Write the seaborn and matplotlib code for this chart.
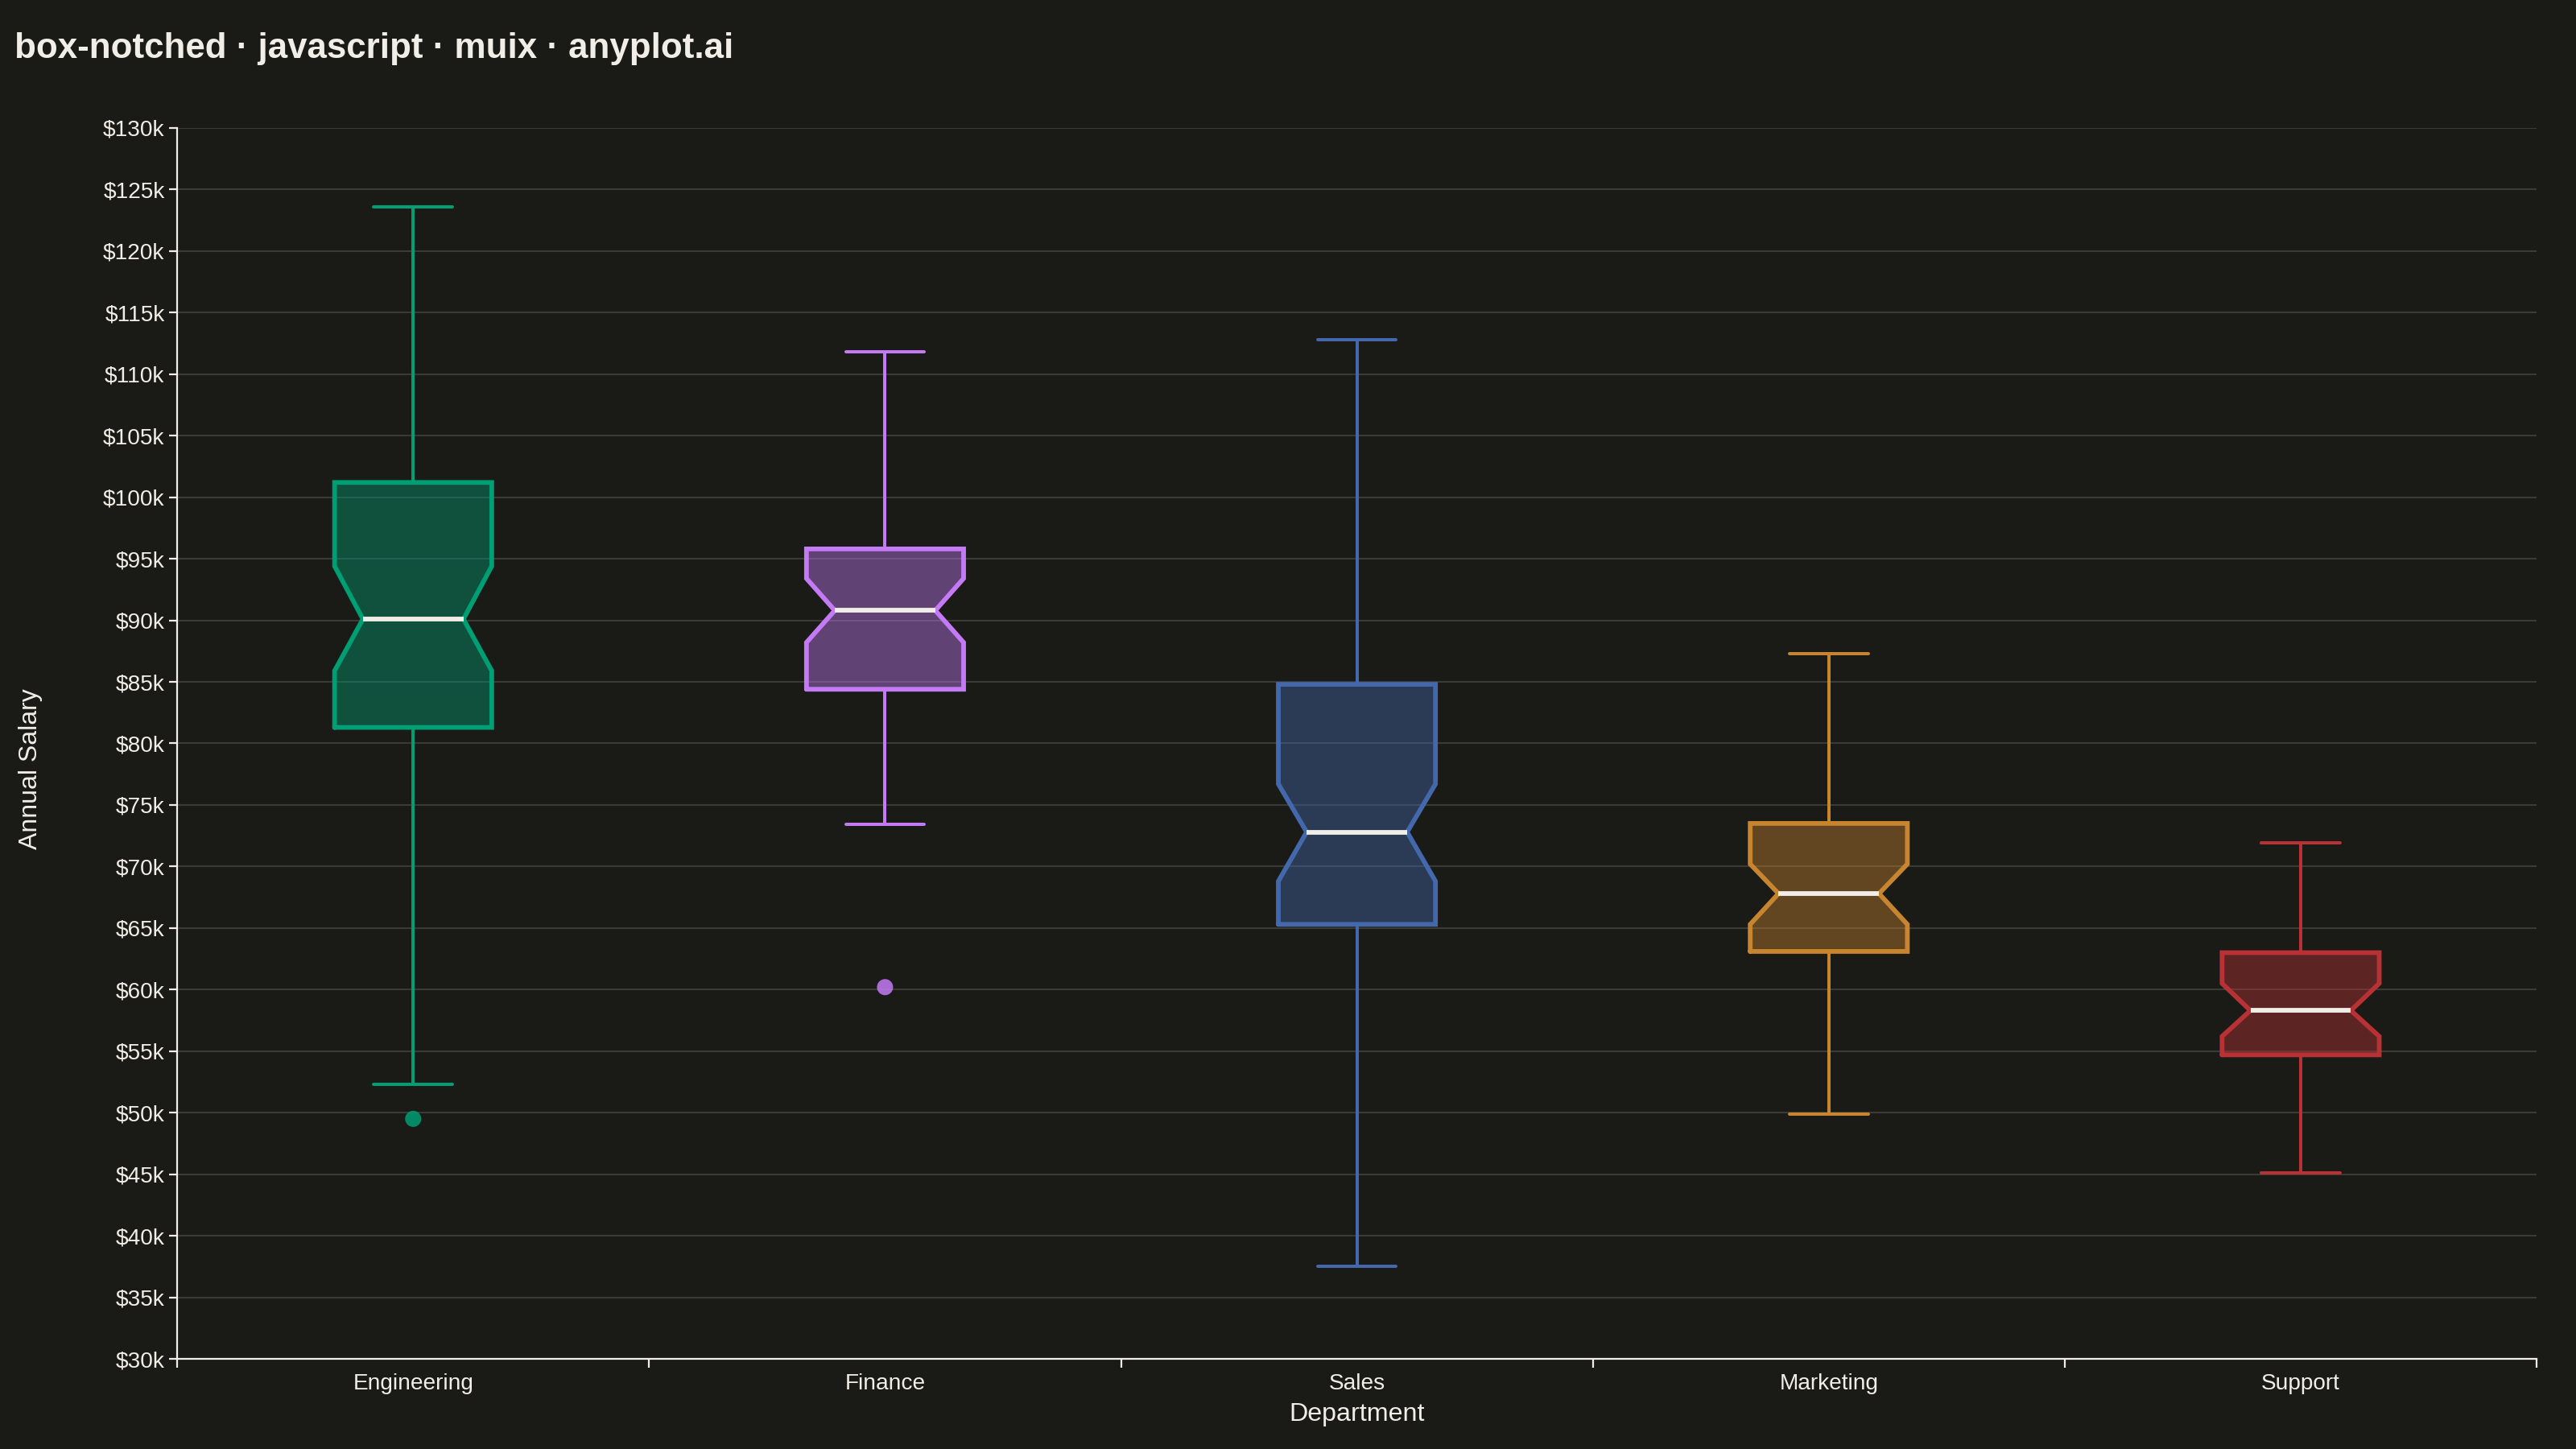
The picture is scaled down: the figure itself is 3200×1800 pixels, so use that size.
import matplotlib.pyplot as plt
import pandas as pd
import seaborn as sns
from matplotlib.ticker import FuncFormatter, MultipleLocator

# Box statistics (salary in $k)
departments = ["Engineering", "Finance", "Sales", "Marketing", "Support"]
whisker_low = [52.3, 73.4, 37.5, 49.9, 45.1]
q1 = [81.3, 84.4, 65.3, 63.1, 54.7]
notch_low = [85.9, 88.2, 68.8, 65.3, 56.2]
median = [90.1, 90.8, 72.8, 67.8, 58.3]
notch_high = [94.4, 93.4, 76.7, 70.2, 60.5]
q3 = [101.2, 95.8, 84.8, 73.5, 63.0]
whisker_high = [123.6, 111.8, 112.8, 87.3, 71.9]

outlier_dept = ["Engineering", "Finance"]
outlier_salary = [49.5, 60.2]

colors = ["#009E73", "#C47AF5", "#4468AC", "#C8852F", "#B83235"]

BG = "#1A1A17"
INK = "#F0EEE6"
GRID = "#3A3A36"

sns.set_theme(style="dark", rc={
    "figure.facecolor": BG,
    "axes.facecolor": BG,
    "axes.edgecolor": INK,
    "axes.labelcolor": INK,
    "text.color": INK,
    "xtick.color": INK,
    "ytick.color": INK,
})
plt.rcParams["font.family"] = ["Liberation Sans", "DejaVu Sans"]

fig, ax = plt.subplots(figsize=(16, 9), dpi=200)
fig.subplots_adjust(left=0.0688, right=0.9847, top=0.9117, bottom=0.0622)

box_w = 0.333
indent = 0.06
cap_w = box_w / 2

for i, dept in enumerate(departments):
    c = colors[i]
    l, r = i - box_w / 2, i + box_w / 2
    xs = [l, r, r, r - indent, r, r, l, l, l + indent, l, l]
    ys = [q1[i], q1[i], notch_low[i], median[i], notch_high[i], q3[i],
          q3[i], notch_high[i], median[i], notch_low[i], q1[i]]
    ax.fill(xs, ys, color=c, alpha=0.42, lw=0, zorder=2)
    ax.plot(xs, ys, color=c, lw=2.1, solid_joinstyle="miter", zorder=3)
    # whiskers and caps
    ax.plot([i, i], [q3[i], whisker_high[i]], color=c, lw=1.45, zorder=2)
    ax.plot([i, i], [q1[i], whisker_low[i]], color=c, lw=1.45, zorder=2)
    ax.plot([i - cap_w / 2, i + cap_w / 2], [whisker_high[i]] * 2, color=c, lw=1.45, zorder=2)
    ax.plot([i - cap_w / 2, i + cap_w / 2], [whisker_low[i]] * 2, color=c, lw=1.45, zorder=2)
    # median
    ax.plot([l + indent, r - indent], [median[i]] * 2, color=INK, lw=2.1,
            solid_capstyle="butt", zorder=4)

out = pd.DataFrame({"dept": outlier_dept, "salary": outlier_salary})
out["x"] = out["dept"].map({d: k for k, d in enumerate(departments)})
sns.scatterplot(data=out, x="x", y="salary", hue="dept",
                palette={d: colors[departments.index(d)] for d in outlier_dept},
                s=52, alpha=0.85, linewidth=0, legend=False, ax=ax, zorder=5)

ax.set_xlim(-0.5, len(departments) - 0.5)
ax.set_ylim(30, 130)
ax.yaxis.set_major_locator(MultipleLocator(5))
ax.yaxis.set_major_formatter(FuncFormatter(lambda v, p: f"${v:.0f}k"))
ax.set_xticks(range(len(departments)))
ax.set_xticklabels(departments)
ax.set_xticks([k - 0.5 for k in range(len(departments) + 1)], minor=True)

ax.grid(axis="y", color=GRID, lw=0.75)
ax.grid(axis="x", visible=False)
ax.set_axisbelow(True)
sns.despine(ax=ax)
for side in ["left", "bottom"]:
    ax.spines[side].set_color(INK)
    ax.spines[side].set_linewidth(0.8)

ax.tick_params(axis="y", which="major", length=3.6, width=0.8, pad=2, labelsize=10.1, left=True)
ax.tick_params(axis="x", which="major", length=0, pad=6.5, labelsize=10.1)
ax.tick_params(axis="x", which="minor", length=4, width=0.8, bottom=True, color=INK)

ax.set_xlabel("Department", fontsize=11.6)
ax.set_ylabel("Annual Salary", fontsize=11.5)
ax.xaxis.set_label_coords(0.5, -0.035)
ax.yaxis.set_label_coords(-0.057, 0.479)

fig.text(18 / 3200, 1 - 72 / 1800, "box-notched · javascript · muix · anyplot.ai",
         fontsize=15.8, fontweight="bold", color=INK, va="baseline", ha="left")

fig.savefig("out.png", dpi=200, facecolor=BG)
